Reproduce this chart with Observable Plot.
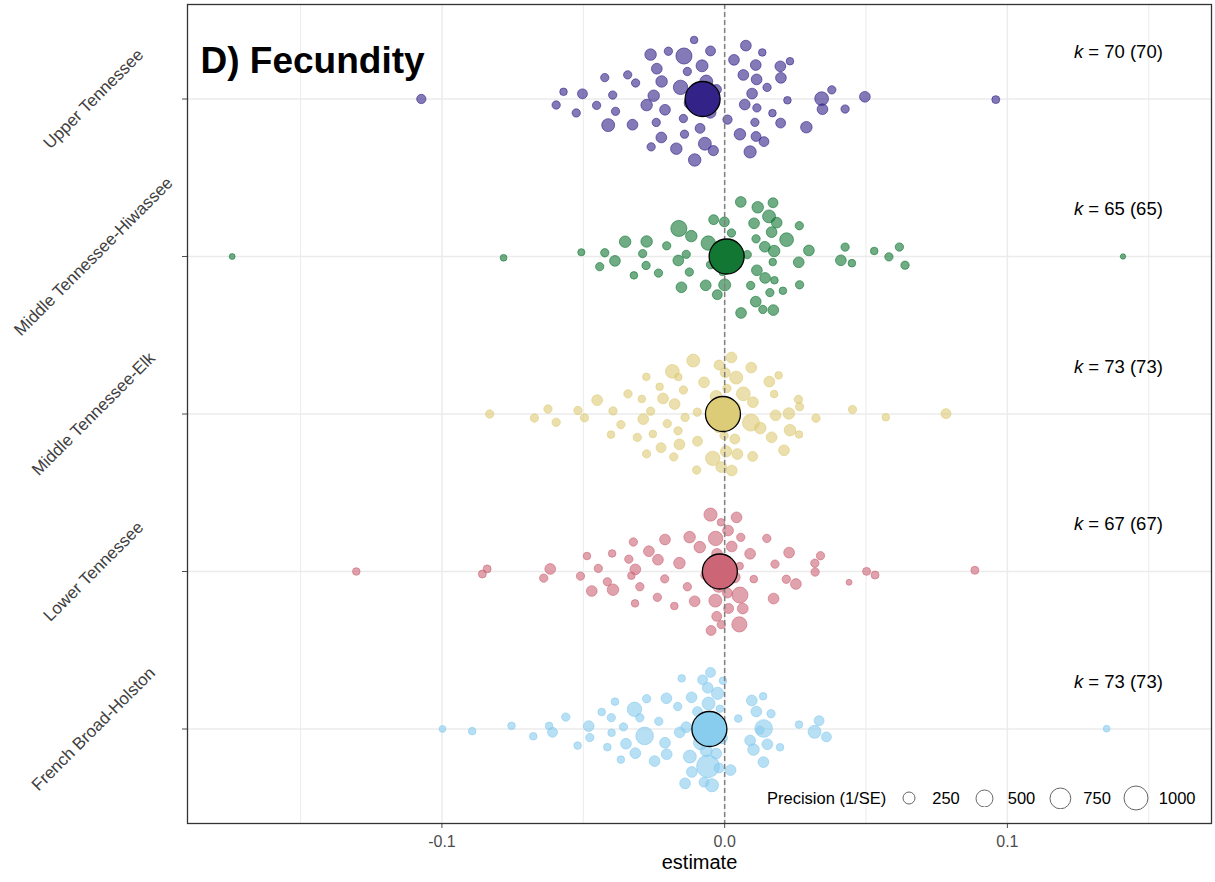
<!DOCTYPE html>
<html>
<head>
<meta charset="utf-8">
<script src="https://cdn.jsdelivr.net/npm/d3@7"></script>
<script src="https://cdn.jsdelivr.net/npm/@observablehq/plot@0.6"></script>
<style>
  body { margin: 0; background: #fff; }
  #chart { position: relative; width: 1215px; height: 882px; font-family: "Liberation Sans", Arial, sans-serif; }
  #legend { position: absolute; left: 767px; top: 786px; height: 24px; display: flex; align-items: center;
            font-size: 16.5px; color: #000; white-space: nowrap; }
  #legend .key { width: 30px; height: 24px; display: flex; align-items: center; justify-content: center; }
  #legend .lab { margin-left: 8px; margin-right: 10px; }
  #legend .ttl { margin-right: 8px; }
</style>
</head>
<body>
<div id="chart"></div>
<script>
// Regions, bottom to top
const regions = ["French Broad-Holston", "Lower Tennessee", "Middle Tennessee-Elk", "Middle Tennessee-Hiwassee", "Upper Tennessee"];
const regionColours = ["#88CCEE", "#CC6677", "#DDCC77", "#117733", "#332288"];
const meanEstimates = [-0.0054, -0.0017, -0.0006, 0.0007, -0.0078];
const xTicks = [-0.1, 0, 0.1];
const xMinorGrid = [-0.15, -0.05, 0.05, 0.15];
const precisionBreaks = [250, 500, 750, 1000];

// Effect sizes (estimate) and precision (1/SE) per region
const estFrench = [-0.0893,-0.0754,-0.0677,-0.0621,-0.0609,-0.0562,-0.0520,-0.0481,-0.0477,-0.0435,
  -0.0400,-0.0388,-0.0401,-0.0415,-0.0367,-0.0358,-0.0349,-0.0319,-0.0300,-0.0283,
  -0.0316,-0.0276,-0.0248,-0.0233,-0.0211,-0.0206,-0.0205,-0.0166,-0.0152,-0.0159,
  -0.0136,-0.0116,-0.0096,-0.0123,-0.0117,-0.0140,-0.0073,-0.0050,-0.0057,-0.0042,
  -0.0059,-0.0078,-0.0060,-0.0056,-0.0020,0.0021,-0.0006,-0.0017,0.0048,0.0090,
  0.0102,0.0136,0.0125,0.0164,0.0137,0.0096,0.0112,0.0151,0.0196,0.0138,
  0.0263,0.0318,0.0334,0.0360,-0.0998,0.1351,
  -0.0045,-0.0065,-0.0030,-0.0085,-0.0010,-0.0070,-0.0025];
const precFrench = [100,100,100,100,170,120,100,200,120,100,
  100,100,120,100,100,120,200,360,120,540,
  200,120,200,120,200,200,200,120,100,200,
  200,200,170,290,200,200,170,170,290,500,
  900,170,200,200,170,200,100,100,100,200,
  230,100,120,120,200,200,200,200,100,540,
  100,290,170,170,80,80,
  300,250,200,350,220,280,260];

const estLower = [-0.0640,-0.0617,-0.0510,-0.0487,-0.0470,-0.0447,-0.0415,-0.0395,-0.0398,-0.0339,
  -0.0323,-0.0316,-0.0330,-0.0300,-0.0317,-0.0268,-0.0236,-0.0212,-0.0211,-0.0238,
  -0.0178,-0.0160,-0.0132,-0.0124,-0.0088,-0.0106,-0.0067,-0.0027,-0.0033,0.0010,
  0.0042,0.0054,0.0014,-0.0028,0.0090,0.0057,0.0103,0.0053,0.0064,0.0012,
  -0.0041,-0.0012,-0.0032,0.0052,-0.0048,-0.0013,0.0149,0.0178,0.0228,0.0173,
  0.0218,0.0252,0.0319,0.0339,0.0320,0.0440,
  -0.1303,-0.0840,-0.0857,0.0502,0.0532,0.0885,
  -0.0050,-0.0005,0.0025,-0.0020,0.0035];
const precLower = [120,200,120,100,200,120,120,230,100,120,
  120,200,100,120,100,200,200,120,200,120,
  100,230,120,230,230,200,170,200,290,170,
  200,450,170,170,200,120,100,100,200,200,
  200,120,360,400,170,100,120,120,200,200,
  120,200,120,120,120,60,
  100,110,110,110,110,110,
  300,250,200,350,220];

const estElk = [-0.0831,-0.0673,-0.0625,-0.0596,-0.0519,-0.0496,-0.0451,-0.0395,-0.0367,-0.0402,
  -0.0342,-0.0293,-0.0262,-0.0288,-0.0309,-0.0277,-0.0230,-0.0218,-0.0254,-0.0276,
  -0.0225,-0.0177,-0.0203,-0.0165,-0.0160,-0.0180,-0.0185,-0.0164,-0.0111,-0.0146,
  -0.0140,-0.0096,-0.0097,-0.0099,-0.0073,-0.0042,-0.0020,-0.0002,0.0024,0.0008,
  0.0041,0.0066,0.0094,0.0099,0.0093,0.0126,-0.0008,0.0036,0.0002,0.0045,
  -0.0021,0.0025,0.0100,0.0166,0.0180,0.0175,0.0158,0.0191,0.0227,0.0231,
  0.0261,0.0263,0.0265,0.0210,0.0323,0.0452,0.0570,0.0783,
  -0.0030,0.0015,-0.0012,0.0030,0.0005];
const precElk = [120,120,120,120,120,120,200,120,120,100,
  120,100,120,200,120,100,100,200,100,120,
  170,200,120,120,200,120,330,100,290,120,
  120,170,120,120,200,360,170,120,200,120,
  290,330,200,170,500,230,170,170,170,200,
  170,200,200,200,200,100,200,100,230,230,
  120,100,120,200,120,120,100,170,
  250,300,200,350,220];

const estHiwassee = [-0.0507,-0.0424,-0.0442,-0.0388,-0.0352,-0.0321,-0.0290,-0.0276,-0.0278,-0.0234,
  -0.0205,-0.0162,-0.0118,-0.0164,-0.0136,-0.0125,-0.0153,-0.0067,-0.0026,-0.0001,
  -0.0039,-0.0007,-0.0058,-0.0050,0.0024,0.0057,0.0117,0.0171,0.0157,0.0184,
  0.0104,0.0166,0.0110,0.0142,0.0175,0.0080,0.0172,0.0219,0.0264,0.0298,
  0.0262,0.0265,0.0114,0.0143,0.0176,0.0206,0.0092,0.0058,0.0111,0.0160,
  0.0135,0.0170,0.0426,0.0411,0.0450,0.0529,0.0581,0.0618,0.0638,-0.1742,
  -0.0782,0.1409,0.0000,0.0035,-0.0020];
const precHiwassee = [90,120,120,200,230,100,120,230,120,120,
  120,450,230,200,120,120,200,200,170,170,
  170,100,360,120,120,200,230,170,290,200,
  200,200,200,200,230,120,200,330,120,200,
  200,120,200,200,100,100,120,200,120,120,
  120,100,120,200,100,100,120,120,120,60,
  80,50,250,200,300];

const estUpper = [-0.0106,-0.0262,-0.0199,-0.0146,-0.0087,-0.0051,0.0075,0.0133,0.0110,0.0033,
  0.0066,0.0113,0.0198,0.0231,0.0197,0.0150,0.0097,0.0222,0.0071,0.0114,
  0.0169,0.0199,0.0107,0.0054,0.0111,0.0139,0.0090,0.0289,0.0343,0.0346,
  0.0379,0.0426,0.0496,-0.0065,-0.0156,-0.0224,-0.0242,-0.0132,-0.0315,-0.0343,
  -0.0424,-0.0251,-0.0276,-0.0396,-0.0503,-0.0570,-0.0596,-0.0525,-0.0453,-0.0386,
  -0.0412,-0.0326,-0.0211,-0.0240,-0.0144,-0.0029,-0.0099,-0.0142,-0.0223,-0.0260,
  -0.0171,-0.0070,-0.0050,-0.0108,-0.1073,0.0959,
  -0.0080,-0.0040,-0.0120,0.0010];
const precUpper = [270,230,120,120,170,230,200,100,200,200,
  200,200,170,100,200,120,200,100,200,120,
  100,200,120,230,170,170,260,230,330,200,
  120,120,200,290,360,200,120,120,120,120,
  120,230,230,120,170,100,120,120,120,120,
  290,200,200,200,450,170,200,120,230,120,
  230,290,170,100,150,110,
  250,180,300,150];

const estimates = [estFrench, estLower, estElk, estHiwassee, estUpper];
const precisions = [precFrench, precLower, precElk, precHiwassee, precUpper];

// Quasirandom (van der Corput) spread scaled by a Gaussian kernel density, as in vipor/ggbeeswarm
function vanDerCorput(i) {
  let x = 0, f = 0.5;
  while (i > 0) { x += f * (i & 1); i >>= 1; f /= 2; }
  return x;
}
function quasirandomOffsets(values, width = 0.4) {
  const n = values.length;
  const sorted = values.slice().sort(d3.ascending);
  const sd = d3.deviation(values);
  const iqr = d3.quantileSorted(sorted, 0.75) - d3.quantileSorted(sorted, 0.25);
  let lo = Math.min(sd, iqr / 1.34);
  if (!(lo > 0)) lo = sd || Math.abs(sorted[0]) || 1;
  const bw = 0.9 * lo * Math.pow(n, -0.2);
  const kde = x => d3.sum(values, v => Math.exp(-0.5 * ((x - v) / bw) ** 2));
  const lo0 = sorted[0] - 3 * bw, hi0 = sorted[n - 1] + 3 * bw;
  const maxD = d3.max(d3.range(1000), i => kde(lo0 + i * (hi0 - lo0) / 999));
  const order = d3.range(n).sort((a, b) => values[a] - values[b] || a - b);
  const rank = new Array(n);
  order.forEach((idx, r) => { rank[idx] = r + 1; });
  return values.map((v, i) => width * (kde(v) / maxD) * (vanDerCorput(rank[i]) - 0.5) * 2);
}

const rows = regions.flatMap((region, g) => {
  const offs = quasirandomOffsets(estimates[g]);
  return estimates[g].map((e, i) => ({ region, estimate: e, precision: precisions[g][i], yPos: g + 1 + offs[i] }));
});
const summary = regions.map((region, g) => ({ region, pos: g + 1, mean: meanEstimates[g], k: estimates[g].length }));
const labelX = d3.max(estimates.flat()) * 1.1;

const rScale = { type: "sqrt", domain: [0, 1000], range: [0, 12] };

const chart = Plot.plot({
  width: 1215,
  height: 882,
  marginLeft: 187,
  marginRight: 4,
  marginTop: 4,
  marginBottom: 59,
  style: { fontFamily: "'Liberation Sans', Arial, sans-serif", fontSize: "16px", color: "#4D4D4D", background: "white", overflow: "visible" },
  x: { domain: [-0.19, 0.1722], ticks: xTicks, tickFormat: d => d.toFixed(1), tickSize: 5, tickPadding: 7, label: null },
  y: { domain: [0.4, 5.6], ticks: [1, 2, 3, 4, 5], tickFormat: () => "", tickSize: 5, label: null },
  r: rScale,
  color: { domain: regions, range: regionColours },
  marks: [
    Plot.ruleX(xMinorGrid, { stroke: "#EBEBEB", strokeWidth: 1 }),
    Plot.ruleX(xTicks, { stroke: "#EBEBEB", strokeWidth: 1.5 }),
    Plot.ruleY(summary, { y: "pos", stroke: "#EBEBEB", strokeWidth: 1.5 }),
    Plot.dot(rows, {
      x: "estimate", y: "yPos", r: "precision",
      fill: "region", fillOpacity: 0.6, stroke: "region", strokeOpacity: 0.6, strokeWidth: 1
    }),
    Plot.ruleX([0], { stroke: "#808080", strokeWidth: 1.5, strokeDasharray: "5,3" }),
    Plot.dot(summary, { x: "mean", y: "pos", r: 17.5, fill: "region", stroke: "black", strokeWidth: 1.3 }),
    Plot.text(summary, {
      x: () => labelX, y: d => d.pos + 0.3, text: d => `k = ${d.k} (${d.k})`,
      textAnchor: "end", lineAnchor: "middle", fontSize: 18.5, fill: "black"
    }),
    Plot.text(regions, {
      y: (d, i) => i + 1, text: d => d, frameAnchor: "left", dx: -94, rotate: -45,
      textAnchor: "middle", lineAnchor: "middle", fontSize: 17, fill: "#404040"
    }),
    Plot.text(["D) Fecundity"], {
      text: d => d, frameAnchor: "top-left", dx: 13, dy: 42, fontSize: 37, fontWeight: "bold", fill: "black"
    }),
    Plot.text(["estimate"], {
      text: d => d, frameAnchor: "bottom", dy: 45, fontSize: 20, fill: "black"
    }),
    Plot.frame({ stroke: "#333333", strokeWidth: 1.3 })
  ]
});

// italic k in the sample-size labels
const ns = "http://www.w3.org/2000/svg";
chart.querySelectorAll("text").forEach(t => {
  const s = t.textContent;
  if (/^k = /.test(s)) {
    t.textContent = "";
    const a = document.createElementNS(ns, "tspan");
    a.setAttribute("font-style", "italic");
    a.textContent = "k";
    const b = document.createElementNS(ns, "tspan");
    b.textContent = s.slice(1);
    t.append(a, b);
  }
});

const root = document.getElementById("chart");
root.appendChild(chart);

// Size legend for precision
const r = d3.scaleSqrt().domain(rScale.domain).range(rScale.range);
const legend = document.createElement("div");
legend.id = "legend";
const ttl = document.createElement("span");
ttl.className = "ttl";
ttl.textContent = "Precision (1/SE)";
legend.appendChild(ttl);
precisionBreaks.forEach(v => {
  const key = document.createElement("span");
  key.className = "key";
  const rad = r(v);
  const s = d3.create("svg").attr("width", 2 * rad + 2).attr("height", 2 * rad + 2);
  s.append("circle").attr("cx", rad + 1).attr("cy", rad + 1).attr("r", rad)
    .attr("fill", "none").attr("stroke", "#666").attr("stroke-width", 1);
  key.appendChild(s.node());
  legend.appendChild(key);
  const lab = document.createElement("span");
  lab.className = "lab";
  lab.textContent = String(v);
  legend.appendChild(lab);
});
root.appendChild(legend);
</script>
</body>
</html>
